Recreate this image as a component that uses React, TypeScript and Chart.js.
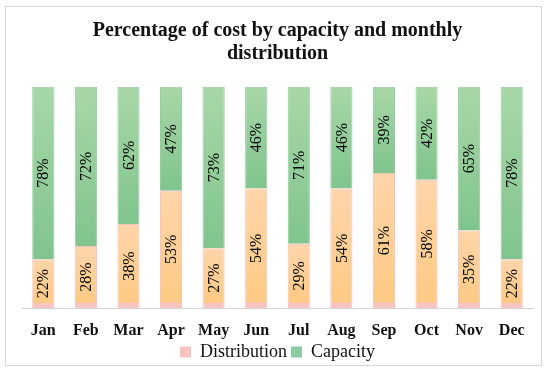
import React, { useEffect, useRef } from "react";
import { Chart, registerables } from "chart.js";

Chart.register(...registerables);

const months = ["Jan", "Feb", "Mar", "Apr", "May", "Jun", "Jul", "Aug", "Sep", "Oct", "Nov", "Dec"];
const distribution = [22, 28, 38, 53, 27, 54, 29, 54, 61, 58, 35, 22];
const capacity = [78, 72, 62, 47, 73, 46, 71, 46, 39, 42, 65, 78];
const titleLines = ["Percentage of cost by capacity and monthly", "distribution"];
const legendNames = ["Distribution", "Capacity"];

const SERIF = "'Liberation Serif', 'Times New Roman', serif";
Chart.defaults.font.family = SERIF;

function segmentGradient(ctx: any, kind: "dist" | "cap") {
  const chart = ctx.chart;
  const area = chart.chartArea;
  const y = chart.scales && chart.scales.y;
  if (!area || !y || ctx.type !== "data") return kind === "dist" ? "#fdcb8c" : "#8ccb98";
  const i = ctx.dataIndex;
  const start = kind === "dist" ? 0 : distribution[i];
  const end = kind === "dist" ? distribution[i] : distribution[i] + capacity[i];
  const top = y.getPixelForValue(end);
  const bottom = y.getPixelForValue(start);
  const h = Math.max(1, bottom - top);
  const g = chart.ctx.createLinearGradient(0, top, 0, bottom);
  if (kind === "dist") {
    const pinkStart = Math.max(0, 1 - 5 / h);
    g.addColorStop(0, "#fed5ab");
    g.addColorStop(Math.max(0, pinkStart - 0.01), "#fdca84");
    g.addColorStop(pinkStart, "#f8c4c0");
    g.addColorStop(1, "#f8c4c4");
  } else {
    g.addColorStop(0, "#a8d7a8");
    g.addColorStop(1, "#80c48e");
  }
  return g;
}

const valueLabels = {
  id: "valueLabels",
  afterDatasetsDraw(chart: any) {
    const c = chart.ctx;
    c.save();
    c.font = `16px ${SERIF}`;
    c.fillStyle = "#000";
    c.textAlign = "center";
    c.textBaseline = "middle";
    chart.data.datasets.forEach((ds: any, di: number) => {
      const meta = chart.getDatasetMeta(di);
      meta.data.forEach((el: any, i: number) => {
        const mid = (el.y + el.base) / 2;
        c.save();
        c.translate(el.x, mid);
        c.rotate(-Math.PI / 2);
        c.fillText(ds.data[i] + "%", 0, 1);
        c.restore();
      });
    });
    c.restore();
  },
};

export default function App() {
  const ref = useRef<HTMLCanvasElement | null>(null);
  useEffect(() => {
    if (!ref.current) return;
    const chart = new Chart(ref.current, {
      type: "bar",
      data: {
        labels: months,
        datasets: [
          {
            label: legendNames[0],
            data: distribution,
            backgroundColor: (ctx: any) => segmentGradient(ctx, "dist"),
            borderColor: "#f7c2bc",
            borderWidth: 1,
            categoryPercentage: 0.8,
            barPercentage: 0.65,
          },
          {
            label: legendNames[1],
            data: capacity,
            backgroundColor: (ctx: any) => segmentGradient(ctx, "cap"),
            borderColor: "#93cc98",
            borderWidth: 1,
            categoryPercentage: 0.8,
            barPercentage: 0.65,
          },
        ],
      },
      options: {
        animation: false,
        responsive: false,
        maintainAspectRatio: false,
        font: { family: SERIF },
        layout: { padding: { top: 8, left: 22, right: 17, bottom: 4 } },
        scales: {
          x: {
            stacked: true,
            grid: { display: false, drawTicks: false },
            border: { display: true, color: "#d4d4d4", width: 1 },
            ticks: { color: "#111", font: { family: SERIF, size: 16, weight: "bold" }, padding: 13 },
            afterFit: (scale: any) => {
              scale.height = 31;
            },
          },
          y: { stacked: true, display: false, min: 0, max: 100 },
        },
        plugins: {
          title: {
            display: true,
            text: titleLines,
            color: "#111",
            font: { family: SERIF, size: 20, weight: "bold", lineHeight: 1.17 },
            padding: { top: 11, bottom: 21 },
          },
          legend: {
            position: "bottom",
            labels: {
              color: "#111",
              font: { family: SERIF, size: 18, weight: "normal", lineHeight: 1.13 },
              boxWidth: 11,
              boxHeight: 11,
              padding: 4,
              generateLabels: () => [
                { text: legendNames[0], fillStyle: "#f9c4c0", strokeStyle: "#f9c4c0", lineWidth: 0, datasetIndex: 0, hidden: false, fontColor: "#111" },
                { text: legendNames[1], fillStyle: "#8ec9a5", strokeStyle: "#8ec9a5", lineWidth: 0, datasetIndex: 1, hidden: false, fontColor: "#111" },
              ],
            },
          },
          tooltip: { enabled: false },
        },
      },
      plugins: [valueLabels],
    });
    return () => chart.destroy();
  }, []);
  return (
    <div style={{ position: "fixed", left: 0, top: 0, width: 550, height: 375, background: "#fff" }}>
      <div
        style={{
          position: "absolute",
          left: 5,
          top: 6,
          width: 537,
          height: 360,
          border: "1px solid #d6d6d6",
          boxSizing: "border-box",
        }}
      />
      <canvas ref={ref} width={550} height={375} style={{ position: "absolute", left: 0, top: 0 }} />
    </div>
  );
}
